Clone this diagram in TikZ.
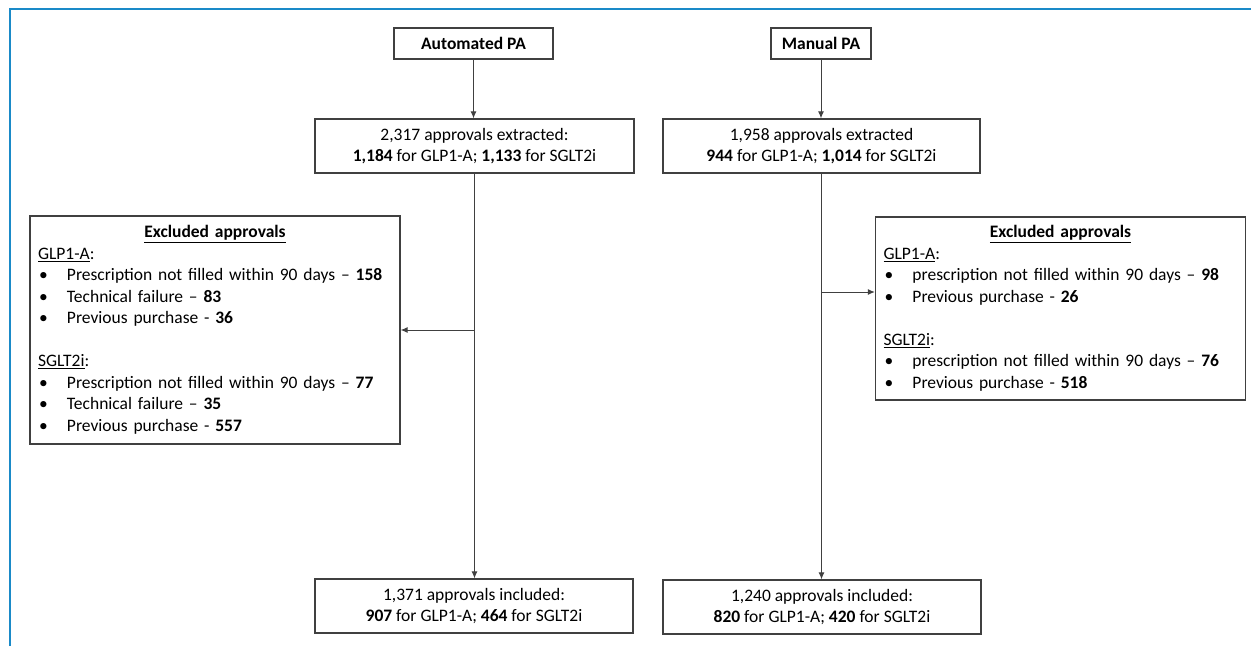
\documentclass[tikz,border=0pt]{standalone}
\usepackage{fontspec}
\setmainfont{Carlito}
\usetikzlibrary{arrows.meta}
\definecolor{frameblue}{HTML}{1A8AC8}
\definecolor{boxgray}{HTML}{404040}
\newcommand{\itm}[1]{\makebox[29pt][l]{\hspace*{1pt}\textbullet}#1}
\newcommand{\exhead}{\makebox[\linewidth]{\textbf{\underline{Excluded approvals}}}}
\begin{document}
\begin{tikzpicture}[x=1pt,y=-1pt,
  font=\fontsize{17.5}{21.5}\selectfont,
  box/.style={draw=boxgray, line width=1.3pt, inner sep=0pt, align=center},
  exbox/.style={draw=boxgray, line width=1.3pt, inner sep=8pt, align=left, text width=354pt},
  conn/.style={draw=boxgray, line width=1pt, -{Latex[length=7pt,width=6pt]}},
  plain/.style={draw=boxgray, line width=1pt}]
\useasboundingbox (0,0) rectangle (1251,646);
\draw[frameblue, line width=2.5pt] (10,646) -- (10,9) -- (1251,9);

\node[box, minimum width=159, minimum height=31] (auto) at (473.5,43.5) {\textbf{Automated PA}};
\node[box, minimum width=100, minimum height=31] (man) at (821,43.5) {\textbf{Manual PA}};

\node[box, minimum width=319, minimum height=54] (ext1) at (474.5,146) {2,317 approvals extracted:\\\textbf{1,184} for GLP1-A; \textbf{1,133} for SGLT2i};
\node[box, minimum width=317, minimum height=54] (ext2) at (821.5,146) {1,958 approvals extracted\\\textbf{944} for GLP1-A; \textbf{1,014} for SGLT2i};

\node[exbox, minimum height=228] (ex1) at (215,330) {\exhead\\
\underline{GLP1-A}:\\
\itm{Prescription not filled within 90 days – \textbf{158}}\\
\itm{Technical failure – \textbf{83}}\\
\itm{Previous purchase - \textbf{36}}\\
~\\
\underline{SGLT2i}:\\
\itm{Prescription not filled within 90 days – \textbf{77}}\\
\itm{Technical failure – \textbf{35}}\\
\itm{Previous purchase - \textbf{557}}};

\node[exbox, minimum height=183] (ex2) at (1060.5,308.5) {\exhead\\
\underline{GLP1-A}:\\
\itm{prescription not filled within 90 days – \textbf{98}}\\
\itm{Previous purchase - \textbf{26}}\\
~\\
\underline{SGLT2i}:\\
\itm{prescription not filled within 90 days – \textbf{76}}\\
\itm{Previous purchase - \textbf{518}}};

\node[box, minimum width=318, minimum height=54] (inc1) at (474,606) {1,371 approvals included:\\\textbf{907} for GLP1-A; \textbf{464} for SGLT2i};
\node[box, minimum width=318, minimum height=54] (inc2) at (822,607) {1,240 approvals included:\\\textbf{820} for GLP1-A; \textbf{420} for SGLT2i};

\coordinate (b1) at (ext1.south |- ex1.east);
\coordinate (b2) at (822,292);

\draw[conn] (auto.south) -- (auto.south |- ext1.north);
\draw[conn] (man.south) -- (man.south |- ext2.north);
\draw[conn] (ext1.south) -- (ext1.south |- inc1.north);
\draw[conn] (ext2.south) -- (ext2.south |- inc2.north);
\draw[conn] (b1) -- (ex1.east);
\draw[conn] (b2) -- (b2 -| ex2.west);
\end{tikzpicture}
\end{document}
